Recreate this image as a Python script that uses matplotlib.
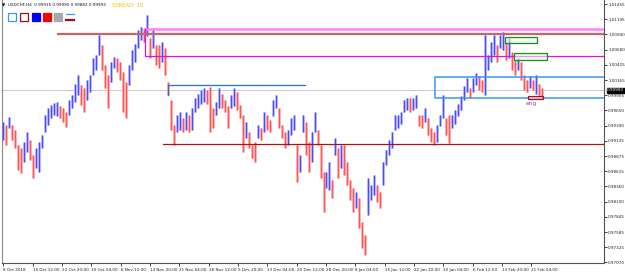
import matplotlib
matplotlib.use("Agg")
import matplotlib.pyplot as plt
from matplotlib.patches import Rectangle
from matplotlib.transforms import blended_transform_factory
import numpy as np

# USDCHF H4 - bar highs / lows (one entry per ~3 bars)
high = [0.9946, 0.9940, 0.9954, 0.9940, 0.9932, 0.9906, 0.9901, 0.9911, 0.9928, 0.9915,
        0.9889, 0.9901, 0.9911, 0.9923, 0.9957, 0.9969, 0.9974, 0.9977, 0.9979, 0.9972,
        0.9969, 0.9962, 0.9983, 0.9991, 1.0010, 1.0025, 1.0008, 1.0003, 1.0016, 1.0025,
        1.0054, 1.0059, 1.0093, 1.0076, 1.0042, 1.0025, 1.0047, 1.0056, 1.0054, 1.0047,
        1.0030, 1.0013, 1.0042, 1.0068, 1.0078, 1.0102, 1.0107, 1.0105, 1.0127, 1.0088,
        1.0105, 1.0076, 1.0076, 1.0081, 1.0071, 1.0013, 0.9983, 0.9940, 0.9957, 0.9962,
        0.9952, 0.9962, 0.9957, 0.9969, 0.9986, 0.9993, 1.0000, 1.0003, 1.0000, 1.0005,
        0.9969, 0.9979, 1.0003, 0.9993, 0.9983, 0.9972, 0.9991, 1.0003, 0.9996, 0.9974,
        0.9957, 0.9946, 0.9928, 0.9906, 0.9911, 0.9940, 0.9935, 0.9962, 0.9957, 0.9949,
        0.9983, 0.9991, 0.9969, 0.9940, 0.9928, 0.9932, 0.9952, 0.9957, 0.9906, 0.9889,
        0.9957, 0.9946, 0.9911, 0.9928, 0.9962, 0.9932, 0.9906, 0.9860, 0.9860, 0.9877,
        0.9847, 0.9918, 0.9901, 0.9906, 0.9906, 0.9877, 0.9847, 0.9833, 0.9826, 0.9816,
        0.9775, 0.9753, 0.9850, 0.9838, 0.9855, 0.9838, 0.9826, 0.9877, 0.9898, 0.9915,
        0.9928, 0.9957, 0.9957, 0.9962, 0.9983, 0.9986, 0.9986, 0.9986, 0.9991, 0.9957,
        0.9957, 0.9969, 0.9952, 0.9935, 0.9928, 0.9940, 0.9957, 0.9991, 0.9952, 0.9957,
        0.9957, 0.9966, 0.9976, 0.9989, 1.0006, 1.0020, 1.0003, 1.0020, 1.0028, 1.0023,
        1.0016, 1.0093, 1.0059, 1.0081, 1.0093, 1.0076, 1.0093, 1.0098, 1.0081, 1.0088,
        1.0064, 1.0051, 1.0054, 1.0047, 1.0025, 1.0016, 1.0023, 1.0016, 1.0025, 1.0010,
        1.0003]
low = [0.9915, 0.9906, 0.9935, 0.9915, 0.9901, 0.9863, 0.9858, 0.9877, 0.9894, 0.9881,
       0.9850, 0.9867, 0.9860, 0.9901, 0.9928, 0.9940, 0.9952, 0.9957, 0.9955, 0.9952,
       0.9946, 0.9937, 0.9957, 0.9969, 0.9979, 0.9991, 0.9974, 0.9962, 0.9983, 0.9996,
       1.0025, 1.0034, 1.0059, 1.0034, 1.0003, 0.9969, 1.0013, 1.0037, 1.0030, 1.0016,
       0.9962, 0.9952, 1.0008, 1.0034, 1.0047, 1.0071, 1.0085, 1.0081, 1.0091, 1.0054,
       1.0071, 1.0042, 1.0037, 1.0047, 1.0025, 0.9991, 0.9932, 0.9906, 0.9928, 0.9932,
       0.9928, 0.9932, 0.9928, 0.9932, 0.9962, 0.9969, 0.9976, 0.9979, 0.9976, 0.9928,
       0.9935, 0.9957, 0.9969, 0.9969, 0.9962, 0.9935, 0.9969, 0.9972, 0.9966, 0.9952,
       0.9894, 0.9918, 0.9901, 0.9884, 0.9877, 0.9918, 0.9915, 0.9928, 0.9932, 0.9928,
       0.9955, 0.9969, 0.9935, 0.9918, 0.9901, 0.9906, 0.9923, 0.9932, 0.9843, 0.9860,
       0.9928, 0.9889, 0.9860, 0.9877, 0.9928, 0.9906, 0.9850, 0.9792, 0.9833, 0.9830,
       0.9816, 0.9889, 0.9850, 0.9867, 0.9855, 0.9838, 0.9813, 0.9792, 0.9799, 0.9765,
       0.9731, 0.9719, 0.9787, 0.9813, 0.9821, 0.9809, 0.9799, 0.9838, 0.9872, 0.9889,
       0.9901, 0.9932, 0.9935, 0.9942, 0.9962, 0.9966, 0.9962, 0.9966, 0.9969, 0.9938,
       0.9935, 0.9946, 0.9923, 0.9911, 0.9906, 0.9911, 0.9938, 0.9952, 0.9923, 0.9909,
       0.9935, 0.9942, 0.9955, 0.9966, 0.9983, 0.9996, 0.9986, 0.9996, 1.0008, 1.0000,
       0.9996, 0.9991, 1.0034, 1.0047, 1.0059, 1.0047, 1.0071, 1.0068, 1.0051, 1.0054,
       1.0034, 1.0025, 1.0034, 1.0016, 1.0000, 0.9996, 1.0003, 1.0000, 0.9993, 0.9991,
       0.9986]

date_labels = ["8 Oct 2018", "15 Oct 12:00", "22 Oct 20:00", "30 Oct 04:00", "6 Nov 12:00",
               "13 Nov 20:00", "21 Nov 04:00", "28 Nov 12:00", "5 Dec 20:00", "13 Dec 04:00",
               "20 Dec 12:00", "28 Dec 20:00", "8 Jan 04:00", "15 Jan 12:00", "22 Jan 20:00",
               "30 Jan 04:00", "6 Feb 12:00", "13 Feb 20:00", "21 Feb 04:00"]
price_ticks = [1.01455, 1.01195, 1.00940, 1.00680, 1.00425, 1.00165, 0.99905, 0.99650, 0.99390,
               0.99135, 0.98875, 0.98615, 0.98360, 0.98100, 0.97845, 0.97585, 0.97325, 0.97070]
last_price = 0.99993
header = "USDCHF,H4  0.99915 0.99995 0.99882 0.99993"

# drawn objects on the chart (price levels)
pink_zone = (1.0104, 1.0057)        # top / bottom
brown_level = 1.0094
short_level = 1.0008
red_level = 0.9908
blue_zone = (1.0022, 0.9986)
green_boxes = [(1.0089, 1.0079), (1.0062, 1.0050)]
eng_box = (0.9990, 0.9984)
eng_price = 0.9976

plt.rcParams["font.family"] = ["DejaVu Sans"]
SMALL = 3.0

W, H = 625, 273
fig = plt.figure(figsize=(W / 100, H / 100), dpi=100)
fig.patch.set_facecolor("white")
ax = fig.add_axes([2 / W, 10 / H, 602 / W, 263 / H])
ax.set_facecolor("white")

n = len(high)
x = np.arange(n)
hi = np.array(high)
lo = np.array(low)
mid = (hi + lo) / 2
up = np.r_[True, mid[1:] >= mid[:-1]]
cols = np.where(up, "#4b4bff", "#ff5555")
light = np.where(up, "#c0c0ff", "#ffb8b8")

xmax = 200.7
ax.set_xlim(-0.4, xmax)
ax.set_ylim(0.97059, 1.01525)

# current price line
ax.axhline(last_price, color="#cccccc", lw=0.8, zorder=1)

ax.vlines(x, lo, hi, colors=light, lw=2.0, zorder=2)
ax.vlines(x, lo, hi, colors=cols, lw=0.9, zorder=3)

# objects
ax.plot([47.3, xmax], [pink_zone[0]] * 2, color="#ff80ff", lw=1.8, zorder=4)
ax.plot([47.3, 47.3, xmax], [pink_zone[0], pink_zone[1], pink_zone[1]], color="#e010e0", lw=0.9, zorder=4)
ax.plot([18.3, xmax], [brown_level] * 2, color="#c86464", lw=1.6, zorder=4)
ax.plot([55, 55, 100.7], [0.9992, short_level, short_level], color="#1f6fff", lw=0.9, zorder=4)
ax.plot([53.3, xmax], [red_level] * 2, color="#b01010", lw=0.9, zorder=4)
ax.plot([xmax, 144.3, 144.3, xmax], [blue_zone[0], blue_zone[0], blue_zone[1], blue_zone[1]],
        color="#3a95ff", lw=1.1, zorder=4)
for (t, b), (x0, x1) in zip(green_boxes, [(167.7, 178.3), (170.7, 181.7)]):
    ax.add_patch(Rectangle((x0, b), x1 - x0, t - b, facecolor=(0.9, 0.96, 0.9, 0.6),
                           edgecolor="#1f8a1f", lw=0.9, zorder=5))
ax.add_patch(Rectangle((175.3, eng_box[1]), 5, eng_box[0] - eng_box[1], facecolor=(1, 1, 1, 0.5),
                       edgecolor="#b01010", lw=0.9, zorder=5))
ax.text(174.6, eng_price, "eng", color="#a040a0", fontsize=4.2, ha="left", va="center", zorder=6)

# axes look
ax.spines["top"].set_visible(False)
ax.spines["left"].set_color("#8a8a8a")
ax.spines["bottom"].set_color("#555555")
ax.spines["right"].set_color("#555555")
for s in ["left", "bottom", "right"]:
    ax.spines[s].set_linewidth(0.8)

ax.yaxis.tick_right()
ax.set_yticks(price_ticks)
ax.set_yticklabels(["%.5f" % v for v in price_ticks])
ax.tick_params(axis="y", direction="out", length=2, width=0.6, pad=1.0, labelsize=SMALL, colors="#222222")
ax.set_xticks(np.arange(len(date_labels)) * 9.8)
ax.set_xticklabels(date_labels, ha="left")
ax.tick_params(axis="x", direction="out", length=2.5, width=0.6, pad=1.2, labelsize=SMALL, colors="#222222")

# current price tag
tr = blended_transform_factory(ax.transAxes, ax.transData)
ax.text(1.005, last_price, "%.5f" % last_price, transform=tr, fontsize=SMALL, color="white",
        ha="left", va="center", bbox=dict(boxstyle="square,pad=0.12", fc="black", ec="black"), zorder=7,
        clip_on=False)

# header
fig.text(2 / W, 1 - 5.5 / H, "\u25bc", fontsize=3.0, va="center", ha="left")
fig.text(8 / W, 1 - 5.5 / H, header, fontsize=SMALL, va="center", ha="left", color="#111111")
fig.text(112 / W, 1 - 5.5 / H, "SPREAD: 30", fontsize=3.8, va="center", ha="left", color="#f0c000")

# colour legend squares
sq = [(8, "white", "#3399ff"), (20, "white", "#a01010"), (32, "#0000ff", "#0000ff"),
      (43, "#ff0000", "#ff0000"), (54, "#a8a8a8", "#a8a8a8")]
for px, fc, ec in sq:
    fig.add_artist(Rectangle((px / W, 1 - 21 / H), 8 / W, 8 / H, transform=fig.transFigure,
                             facecolor=fc, edgecolor=ec, lw=0.9))
fig.add_artist(plt.Line2D([66 / W, 74 / W], [1 - 14 / H] * 2, transform=fig.transFigure, color="#3399ff", lw=0.9))
fig.add_artist(plt.Line2D([66 / W, 74 / W], [1 - 19.5 / H] * 2, transform=fig.transFigure, color="#a01010", lw=1.6))

fig.savefig("out.png", dpi=100, facecolor="white")
